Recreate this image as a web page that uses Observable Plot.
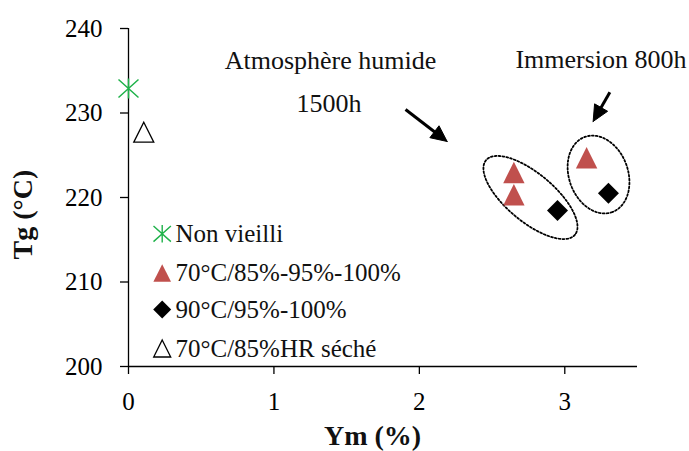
<!DOCTYPE html>
<html>
<head>
<meta charset="utf-8">
<script src="https://cdn.jsdelivr.net/npm/d3@7"></script>
<script src="https://cdn.jsdelivr.net/npm/@observablehq/plot@0.6"></script>
<style>
  html, body { margin: 0; padding: 0; background: #fff; }
  svg, svg text { font-family: "Liberation Serif", "Times New Roman", serif !important; }
</style>
</head>
<body>
<script>
// ---- Data ----
const seriesNames = ["Non vieilli", "70°C/85%-95%-100%", "90°C/95%-100%", "70°C/85%HR séché"];
const nonVieilliX = [0];
const nonVieilliY = [232.9];
const rougeX = [2.65, 2.65, 3.15];
const rougeY = [222.96, 220.32, 224.7];
const noirX = [2.95, 3.30];
const noirY = [218.46, 220.51];
const secheX = [0.105];
const secheY = [227.73];

const xTicks = [0, 1, 2, 3];
const yTicks = [200, 210, 220, 230, 240];
const xDomain = [0, 3.5];
const yDomain = [200, 240];
const xLabel = "Ym (%)";
const yLabel = "Tg (°C)";

// annotations (data coordinates)
const annotTexts = [
  {text: "Atmosphère humide", x: 1.389, y: 235.23},
  {text: "1500h", x: 1.379, y: 230.09},
  {text: "Immersion 800h", x: 3.249, y: 235.27}
];
const arrowsData = [
  {x1: 1.905, y1: 230.41, x2: 2.191, y2: 226.63},
  {x1: 3.310, y1: 232.46, x2: 3.195, y2: 229.0}
];
// ellipse centre in data units, semi-axes (px) and angle of major axis (deg, screen)
const ellipsesData = [
  {cx: 2.764, cy: 220.0, a: 58, b: 24, angle: 40},
  {cx: 3.232, cy: 222.72, a: 40, b: 29.5, angle: 70}
];

// ---- Layout ----
const W = 689, H = 451, ML = 128, MR = 52, MT = 28, MB = 85;
const kx = (W - ML - MR) / (xDomain[1] - xDomain[0]);
const ky = (H - MT - MB) / (yDomain[1] - yDomain[0]);
const FONT = "Liberation Serif";
const GREEN = "#1fb24a", RED = "#c0504d";

// ---- custom symbols (bbox centred) ----
const triSym = {draw(ctx, size) { const r = Math.sqrt(size / Math.PI);
  ctx.moveTo(0, -r); ctx.lineTo(r, r); ctx.lineTo(-r, r); ctx.closePath(); }};
const diaSym = {draw(ctx, size) { const r = Math.sqrt(size / Math.PI);
  ctx.moveTo(0, -r); ctx.lineTo(r, 0); ctx.lineTo(0, r); ctx.lineTo(-r, 0); ctx.closePath(); }};
const starSym = {draw(ctx, size) { const r = Math.sqrt(size / Math.PI);
  ctx.moveTo(0, -r); ctx.lineTo(0, r);
  ctx.moveTo(-r, -0.9 * r); ctx.lineTo(r, 0.9 * r);
  ctx.moveTo(r, -0.9 * r); ctx.lineTo(-r, 0.9 * r); }};

const pts = (xs, ys) => xs.map((x, i) => ({x, y: ys[i]}));

// ellipse outlines
const ellipsePts = ellipsesData.map(e => {
  const th = e.angle * Math.PI / 180;
  const ux = Math.cos(th), uy = Math.sin(th), vx = -uy, vy = ux;
  const out = [];
  for (let i = 0; i <= 160; i++) {
    const t = 2 * Math.PI * i / 160;
    const dxp = e.a * Math.cos(t) * ux + e.b * Math.sin(t) * vx;
    const dyp = e.a * Math.cos(t) * uy + e.b * Math.sin(t) * vy;
    out.push({x: e.cx + dxp / kx, y: e.cy - dyp / ky});
  }
  return out;
});

// arrows: shaft + filled head
const headL = 16, headW = 15;
const shafts = [], heads = [];
arrowsData.forEach(a => {
  const dxp = (a.x2 - a.x1) * kx, dyp = -(a.y2 - a.y1) * ky;
  const len = Math.hypot(dxp, dyp), ux = dxp / len, uy = dyp / len;
  const bx = -ux * headL, by = -uy * headL;
  const nx = -uy * headW / 2, ny = ux * headW / 2;
  const toData = (px, py) => ({x: a.x2 + px / kx, y: a.y2 - py / ky});
  const base = toData(bx + ux * 2, by + uy * 2);
  shafts.push({x1: a.x1, y1: a.y1, x2: base.x, y2: base.y});
  heads.push([toData(0, 0), toData(bx + nx, by + ny), toData(bx - nx, by - ny), toData(0, 0)]);
});

const legendRows = [
  {name: seriesNames[0], symbol: starSym, fill: "none", stroke: GREEN, r: 8.7, sw: 1.4, dy: 205.3},
  {name: seriesNames[1], symbol: triSym, fill: RED, stroke: "none", r: 8.8, sw: 0, dy: 244.5},
  {name: seriesNames[2], symbol: diaSym, fill: "#000", stroke: "none", r: 9, sw: 0, dy: 281},
  {name: seriesNames[3], symbol: triSym, fill: "#fff", stroke: "#000", r: 8.5, sw: 1.3, dy: 320}
];

const fmt = d3.format("d");
const marks = [
  Plot.axisX({ticks: xTicks, tickFormat: fmt, tickSize: 8, tickPadding: 18, fontSize: 25, fontFamily: FONT, label: null, strokeWidth: 1.3}),
  Plot.axisY({ticks: yTicks, tickFormat: fmt, tickSize: 8, tickPadding: 18, fontSize: 25, fontFamily: FONT, label: null, strokeWidth: 1.3}),
  Plot.ruleX([0], {strokeWidth: 1.3}),
  Plot.ruleY([200], {strokeWidth: 1.3}),
  ...ellipsePts.map(p => Plot.line(p, {x: "x", y: "y", stroke: "#000", strokeWidth: 1.8, strokeDasharray: "1.8,2.1"})),
  Plot.link(shafts, {x1: "x1", y1: "y1", x2: "x2", y2: "y2", stroke: "#000", strokeWidth: 3}),
  ...heads.map(h => Plot.line(h, {x: "x", y: "y", fill: "#000", stroke: "#000", strokeWidth: 1, strokeLinejoin: "miter"})),
  Plot.text(annotTexts, {x: "x", y: "y", text: "text", fontSize: 26, fontFamily: FONT, textAnchor: "middle", lineAnchor: "bottom", fill: "#111"}),
  Plot.dot(pts(nonVieilliX, nonVieilliY), {x: "x", y: "y", symbol: starSym, r: 10, fill: "none", stroke: GREEN, strokeWidth: 1.5}),
  Plot.dot(pts(secheX, secheY), {x: "x", y: "y", symbol: triSym, r: 10, fill: "#fff", stroke: "#000", strokeWidth: 1.3}),
  Plot.dot(pts(rougeX, rougeY), {x: "x", y: "y", symbol: triSym, r: 10.7, fill: RED, stroke: "none"}),
  Plot.dot(pts(noirX, noirY), {x: "x", y: "y", symbol: diaSym, r: 10.5, fill: "#000", stroke: "none"}),
  ...legendRows.map(l => Plot.dot([0], {frameAnchor: "top-left", dx: 33.7, dy: l.dy, symbol: l.symbol, r: l.r, fill: l.fill, stroke: l.stroke, strokeWidth: l.sw})),
  ...legendRows.map(l => Plot.text([l.name], {frameAnchor: "top-left", dx: 47, dy: l.dy, text: d => d, fontSize: 25, fontFamily: FONT, textAnchor: "start", lineAnchor: "middle", fill: "#111"})),
  Plot.text([yLabel], {frameAnchor: "left", dx: -105, dy: 17, text: d => d, rotate: -90, fontSize: 28, fontFamily: FONT, fontWeight: "bold", textAnchor: "middle", lineAnchor: "middle", fill: "#111"}),
  Plot.text([xLabel], {frameAnchor: "bottom", dx: -10.5, dy: 78, text: d => d, fontSize: 28, fontFamily: FONT, fontWeight: "bold", textAnchor: "middle", lineAnchor: "bottom", fill: "#111"})
];

const chart = Plot.plot({
  width: W, height: H,
  marginLeft: ML, marginRight: MR, marginTop: MT, marginBottom: MB,
  x: {domain: xDomain},
  y: {domain: yDomain},
  style: {fontFamily: FONT, fontSize: "25px", color: "#000", background: "#fff", overflow: "visible"},
  marks
});
document.body.append(chart);
</script>
</body>
</html>
